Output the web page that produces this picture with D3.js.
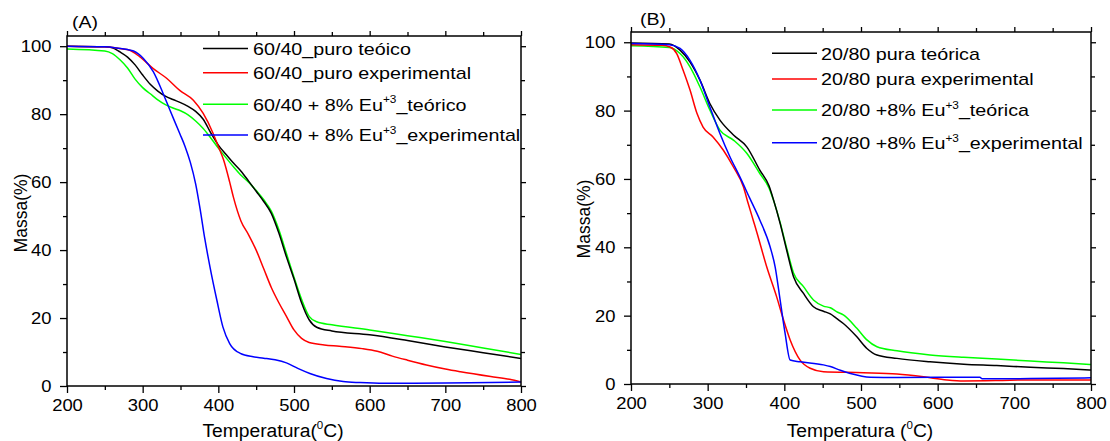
<!DOCTYPE html>
<html>
<head>
<meta charset="utf-8">
<script src="https://cdn.jsdelivr.net/npm/d3@7"></script>
<style>
  body { margin: 0; background: #fff; }
  svg { display: block; }
  text { font-family: "Liberation Sans", Arial, sans-serif; fill: #000; }
</style>
</head>
<body>
<svg id="chart" width="1110" height="441"></svg>
<script>
// Axis ticks
const xTicks = [200, 300, 400, 500, 600, 700, 800];
const xMinor = [250, 350, 450, 550, 650, 750];
const yTicks = [0, 20, 40, 60, 80, 100];
const yMinor = [10, 30, 50, 70, 90];

// Series colours (theoretical pure, experimental pure, theoretical Eu, experimental Eu)
const seriesColors = ["#000000", "#ff0000", "#00ff00", "#0000ff"];

// Legend labels; text between ^ marks is a superscript
const legendA = [
  "60/40_puro teóico",
  "60/40_puro experimental",
  "60/40 + 8% Eu^+3^_teórico",
  "60/40 + 8% Eu^+3^_experimental"
];
const legendB = [
  "20/80 pura teórica",
  "20/80 pura experimental",
  "20/80 +8% Eu^+3^_teórica",
  "20/80 +8% Eu^+3^_experimental"
];

// (A) 60/40 — [temperature °C, mass %]
const a6040Teo = [[200,100],[250,99.8],[260,99.5],[270,98.3],[280,96.8],[290,94.5],[300,91.5],[310,88.8],[320,86.8],[330,85.3],[340,84.3],[350,83.4],[360,82.3],[370,80.8],[380,78.5],[390,74.5],[400,70.9],[410,68.2],[420,65.6],[430,63.2],[440,60.3],[450,57.3],[460,54.3],[470,50.8],[480,45],[490,38],[500,31.5],[510,24.5],[520,19.5],[530,17.3],[550,16.2],[600,15.1],[650,13.4],[700,11.5],[750,9.8],[800,8.1]];
const a6040Exp = [[200,100],[250,99.8],[270,99.3],[283,98.8],[296,96.9],[314,93.4],[332,90.5],[349,87],[367,84.1],[380,80.2],[393,74.4],[400,70.5],[407,66.5],[415,60],[420,55.5],[430,48.5],[440,44.5],[450,40],[460,34.5],[470,29],[480,24.5],[490,20.5],[500,16.5],[510,14],[520,12.8],[540,12.1],[560,11.7],[590,11],[610,10.2],[630,8.8],[650,7.6],[675,6.2],[700,5],[720,4.2],[760,2.8],[785,2],[800,1.2]];
const a6040EuTeo = [[200,99.2],[250,98.6],[260,97.8],[270,96],[280,93.6],[290,90.3],[300,87.8],[310,86],[320,84.2],[330,82.8],[340,81.8],[350,81],[360,79.8],[370,78],[380,75.8],[390,73],[400,70],[410,67.2],[420,64.5],[430,62],[440,60],[450,57.5],[460,54.8],[470,51.5],[480,46],[490,39],[500,32],[510,25.5],[520,20.5],[530,18.9],[550,18],[600,16.5],[650,14.8],[700,13.1],[750,11.2],[800,9.3]];
const a6040EuExp = [[200,100],[250,99.8],[265,99.5],[280,99],[288,98.6],[301,96.4],[314,92.5],[327,86.1],[336,81.2],[349,74.3],[356,70.5],[363,65.8],[370,59.5],[376,52],[382,43.5],[389,35],[398,25.3],[406,17.4],[415,12.5],[429,9.6],[446,8.6],[460,8.2],[475,7.7],[490,6.8],[505,5.2],[521,3.7],[543,2.2],[565,1.3],[587,1.0],[620,0.8],[700,0.9],[760,1.0],[800,1.2]];

// (B) 20/80 — [temperature °C, mass %]
const b2080Teo = [[200,99.8],[250,99.5],[264,97.7],[277,94.2],[290,88.9],[303,82],[316,77.2],[334,72.8],[351,69.4],[368,62.6],[380,58],[386,53.8],[394.5,47],[403,39.2],[412,31.4],[425,26.5],[438,22.6],[451,21.3],[460,20.5],[468,19.2],[477,17.7],[494.6,13.8],[507.7,10.4],[520.8,8.5],[547,7.5],[590,6.5],[634,5.8],[677,5.4],[721,4.9],[764,4.5],[800,4.1]];
const b2080Exp = [[200,99.3],[240,99.1],[251,98.6],[259.6,96.7],[268,91.8],[277,86],[286,79.2],[294,75.2],[307,72.3],[320.5,68.4],[333.6,63.5],[346.6,57.7],[352,53.5],[360,47.5],[364,44.5],[377,34.3],[390,25.5],[399,18.7],[407.6,12.9],[420.6,7],[433.7,4.6],[451,3.6],[503,3.3],[547,2.9],[581.6,2.1],[612,1.2],[634,0.9],[677,1.0],[721,1.2],[800,1.2]];
const b2080EuTeo = [[200,99],[250,98.5],[264,96.7],[277,92.8],[290,86.9],[303,80.1],[316,74.3],[334,71.3],[351,67.5],[368,61.6],[380,57.4],[387,53],[394.5,47.3],[403,39.8],[412,32.5],[425,28.5],[438,24.6],[451,22.8],[460,22.3],[468,21.2],[477,20.2],[494.6,16.3],[507.7,12.9],[520.8,10.9],[547,9.7],[590,8.5],[634,7.8],[677,7.3],[721,6.7],[764,6.2],[800,5.7]];
const b2080EuExp = [[200,99.6],[250,99.3],[264,98.2],[277,94.7],[290,88.9],[303,81],[316,73.3],[329,66.5],[342,60.6],[355,54.3],[368,48],[381.5,40.1],[388,34.3],[394.5,24.6],[401,14.8],[407.6,7],[420.6,6.5],[451,5.6],[460,5.1],[473,4],[486,3.1],[512,2.0],[547,1.9],[655,2.0],[658,1.5],[721,1.6],[800,1.8]];

const panels = [
  {
    tag: "(A)", tagPos: [72, 28],
    box: { l: 67, r: 521, t: 36, b: 386 },
    series: [a6040Teo, a6040Exp, a6040EuTeo, a6040EuExp],
    legend: legendA,
    legendPos: { x1: 203, x2: 248, tx: 253, rows: [48.5, 72.7, 104.3, 135] },
    xTitle: "Temperatura(^0^C)", xTitlePos: [273, 437],
    yTitle: "Massa(%)", yTitlePos: [27, 213]
  },
  {
    tag: "(B)", tagPos: [640, 25],
    box: { l: 631, r: 1091, t: 32, b: 384 },
    series: [b2080Teo, b2080Exp, b2080EuTeo, b2080EuExp],
    legend: legendB,
    legendPos: { x1: 772, x2: 817, tx: 821, rows: [53.3, 79, 110, 142.7] },
    xTitle: "Temperatura (^0^C)", xTitlePos: [860, 437],
    yTitle: "Massa(%)", yTitlePos: [590, 219]
  }
];

const svg = d3.select("#chart");
const SX = 1.15; // horizontal widening of the type

// Writes a label whose ^-delimited parts are superscripts
function richText(parent, str, size, transform, anchor) {
  const t = parent.append("text")
    .attr("transform", transform)
    .attr("font-size", size)
    .attr("text-anchor", anchor || "start");
  const raise = size * 0.42;
  let up = false;
  str.split("^").forEach((part, i) => {
    const sup = i % 2 === 1;
    if (part === "") { return; }
    const ts = t.append("tspan").text(part);
    if (sup) {
      ts.attr("font-size", size * 0.6).attr("dy", -raise);
      up = true;
    } else if (up) {
      ts.attr("dy", raise);
      up = false;
    }
  });
  return t;
}

const drawOrder = [2, 0, 1, 3];

panels.forEach((p, pi) => {
  const { l, r, t, b } = p.box;
  const x = d3.scaleLinear().domain([200, 800]).range([l, r]);
  const y = d3.scaleLinear().domain([0, 103]).range([b, t]);
  const g = svg.append("g");

  const clipId = "clip" + pi;
  svg.append("clipPath").attr("id", clipId)
    .append("rect").attr("x", l).attr("y", t).attr("width", r - l).attr("height", b - t);

  const line = d3.line()
    .x(d => x(d[0]))
    .y(d => y(d[1]))
    .curve(d3.curveMonotoneX);

  const lines = g.append("g").attr("clip-path", `url(#${clipId})`);
  drawOrder.forEach(i => {
    lines.append("path")
      .datum(p.series[i])
      .attr("fill", "none")
      .attr("stroke", seriesColors[i])
      .attr("stroke-width", 1.5)
      .attr("stroke-linejoin", "round")
      .attr("d", line);
  });

  // Axes: labelled bottom/left, mirrored ticks on top/right
  const styleAxis = sel => {
    sel.select(".domain").remove();
    sel.selectAll(".tick line").attr("stroke", "#000").attr("stroke-width", 1.3);
  };
  const bottom = g.append("g").attr("transform", `translate(0,${b})`)
    .call(d3.axisBottom(x).tickValues(xTicks).tickSize(7).tickSizeOuter(0).tickFormat(d3.format("d")))
    .call(styleAxis);
  bottom.selectAll(".tick text")
    .attr("y", 13.5).attr("font-size", 16)
    .attr("font-family", "Liberation Sans, Arial, sans-serif")
    .attr("fill", "#000")
    .attr("transform", `scale(${SX},1)`);
  g.append("g").attr("transform", `translate(0,${b})`)
    .call(d3.axisBottom(x).tickValues(xMinor).tickSize(4).tickSizeOuter(0).tickFormat(""))
    .call(styleAxis);

  const left = g.append("g").attr("transform", `translate(${l},0)`)
    .call(d3.axisLeft(y).tickValues(yTicks).tickSize(7).tickSizeOuter(0).tickFormat(d3.format("d")))
    .call(styleAxis);
  left.selectAll(".tick text")
    .attr("x", -15.5 / SX).attr("dy", "0.35em").attr("font-size", 16)
    .attr("font-family", "Liberation Sans, Arial, sans-serif")
    .attr("fill", "#000")
    .attr("transform", `scale(${SX},1)`);
  g.append("g").attr("transform", `translate(${l},0)`)
    .call(d3.axisLeft(y).tickValues(yMinor).tickSize(4).tickSizeOuter(0).tickFormat(""))
    .call(styleAxis);

  g.append("g").attr("transform", `translate(0,${t})`)
    .call(d3.axisTop(x).tickValues(xTicks).tickSize(5).tickSizeOuter(0).tickFormat(""))
    .call(styleAxis);
  g.append("g").attr("transform", `translate(0,${t})`)
    .call(d3.axisTop(x).tickValues(xMinor).tickSize(4).tickSizeOuter(0).tickFormat(""))
    .call(styleAxis);
  g.append("g").attr("transform", `translate(${r},0)`)
    .call(d3.axisRight(y).tickValues(yTicks).tickSize(5).tickSizeOuter(0).tickFormat(""))
    .call(styleAxis);
  g.append("g").attr("transform", `translate(${r},0)`)
    .call(d3.axisRight(y).tickValues(yMinor).tickSize(4).tickSizeOuter(0).tickFormat(""))
    .call(styleAxis);

  // Plot frame
  g.append("rect")
    .attr("x", l).attr("y", t).attr("width", r - l).attr("height", b - t)
    .attr("fill", "none").attr("stroke", "#000").attr("stroke-width", 1.5);

  // Legend
  const lg = g.append("g");
  p.legend.forEach((label, i) => {
    const ly = p.legendPos.rows[i];
    lg.append("line")
      .attr("x1", p.legendPos.x1).attr("x2", p.legendPos.x2)
      .attr("y1", ly).attr("y2", ly)
      .attr("stroke", seriesColors[i]).attr("stroke-width", 1.5);
    richText(lg, label, 17, `translate(${p.legendPos.tx},${ly + 6.2}) scale(1.16,1)`, "start");
  });

  // Panel tag and axis titles
  richText(g, p.tag, 17, `translate(${p.tagPos[0]},${p.tagPos[1]}) scale(${SX},1)`, "start");
  richText(g, p.xTitle, 18, `translate(${p.xTitlePos[0]},${p.xTitlePos[1]}) scale(1.07,1)`, "middle");
  richText(g, p.yTitle, 17.5, `translate(${p.yTitlePos[0]},${p.yTitlePos[1]}) rotate(-90)`, "middle");
});
</script>
</body>
</html>
